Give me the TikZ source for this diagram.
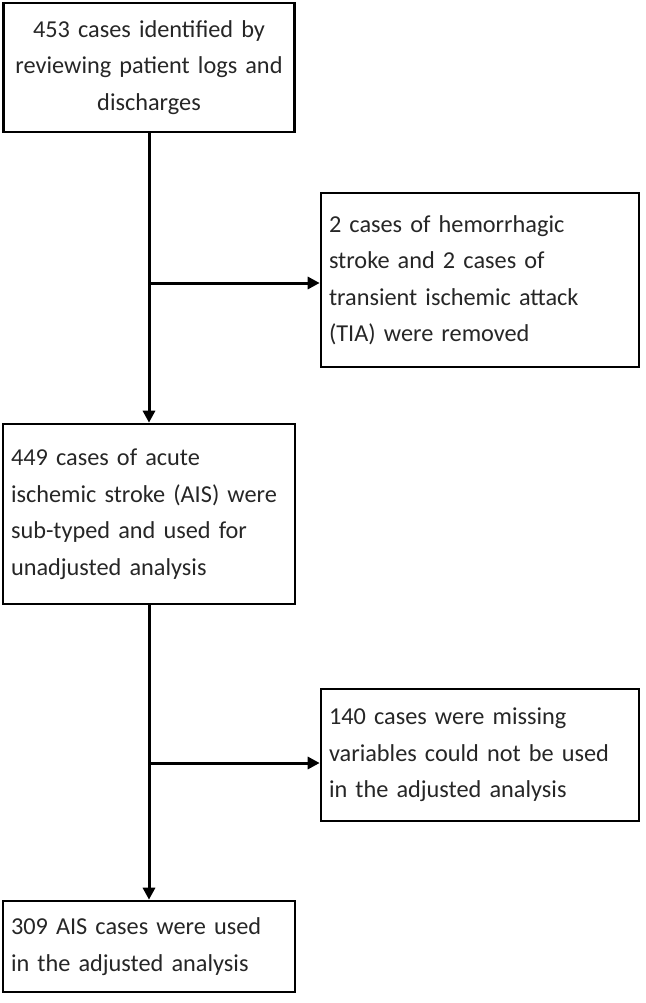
\documentclass[tikz,border=0pt]{standalone}
\usepackage{fontspec}
\setmainfont{Carlito}
\usetikzlibrary{arrows.meta}
\begin{document}
\begin{tikzpicture}[x=1pt,y=-1pt,
  box/.style={draw=black,line width=2.6pt,inner xsep=8pt,inner ysep=0pt,align=left,
    font=\fontsize{24.3}{36.5}\selectfont,text=black!85},
  arr/.style={line width=3pt,-{Triangle[length=12pt,width=12pt]}}]
\useasboundingbox (0,0) rectangle (645,1003);
\node[box,align=center,text width=275pt,minimum height=129pt] (ident) at (149,67.5) {453 cases identified by\\reviewing patient logs and\\discharges};
\node[box,text width=302pt,minimum height=174pt] (removed) at (480,280) {2 cases of hemorrhagic\\stroke and 2 cases of\\transient ischemic attack\\(TIA) were removed};
\node[box,text width=276pt,minimum height=180pt] (ais) at (149,514) {449 cases of acute\\ischemic stroke (AIS) were\\sub-typed and used for\\unadjusted analysis};
\node[box,text width=302pt,minimum height=132pt] (missing) at (480,755) {140 cases were missing\\variables could not be used\\in the adjusted analysis};
\node[box,text width=276pt,minimum height=91pt] (adjusted) at (149,946.5) {309 AIS cases were used\\in the adjusted analysis};
\coordinate (split1) at (149,283);
\coordinate (split2) at (149,763);
\draw[arr] (ident) -- (ais);
\draw[arr] (split1) -- (split1 -| removed.west);
\draw[arr] (ais) -- (adjusted);
\draw[arr] (split2) -- (split2 -| missing.west);
\end{tikzpicture}
\end{document}
